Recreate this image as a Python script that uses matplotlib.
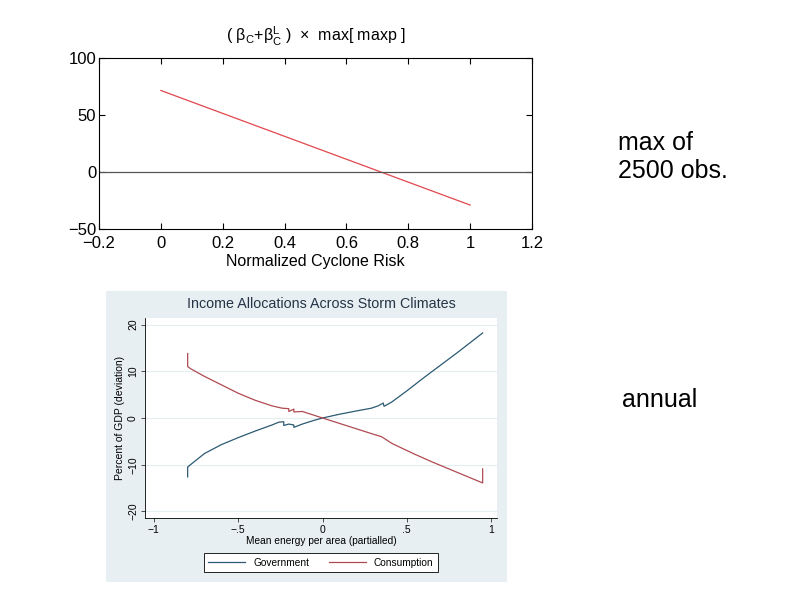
import matplotlib.pyplot as plt

plt.rcParams['font.family'] = ['Liberation Sans', 'DejaVu Sans']
plt.rcParams['mathtext.default'] = 'regular'

# top panel: marginal effect vs normalized cyclone risk
risk = [0.0, 1.0]
effect = [71.5, -29.0]

# bottom panel: income allocations
gov_x = [-0.80, -0.80, -0.78, -0.70, -0.60, -0.50, -0.40, -0.30, -0.26, -0.23, -0.23,
         -0.20, -0.17, -0.17, -0.12, -0.05, 0.00, 0.10, 0.20, 0.29, 0.33, 0.36, 0.365,
         0.41, 0.50, 0.60, 0.70, 0.80, 0.90, 0.95]
gov_y = [-12.6, -10.5, -9.9, -7.6, -5.7, -4.2, -2.8, -1.5, -0.9, -0.8, -1.6,
         -1.3, -1.5, -2.0, -1.3, -0.5, 0.0, 0.8, 1.5, 2.1, 2.6, 3.2, 2.5,
         3.4, 5.8, 8.6, 11.3, 14.0, 16.8, 18.2]
cons_x = [-0.80, -0.80, -0.78, -0.70, -0.60, -0.50, -0.40, -0.30, -0.24, -0.20, -0.20,
          -0.17, -0.17, -0.12, 0.00, 0.10, 0.20, 0.30, 0.35, 0.41, 0.45, 0.55, 0.65,
          0.75, 0.85, 0.95, 0.95]
cons_y = [13.8, 11.0, 10.5, 8.9, 7.1, 5.3, 3.8, 2.6, 2.1, 2.0, 1.4,
          1.9, 1.3, 1.4, 0.0, -1.15, -2.3, -3.45, -4.0, -5.4, -6.1, -7.8, -9.4,
          -10.9, -12.4, -13.9, -10.9]

fig = plt.figure(figsize=(8, 6), dpi=100)

# ---- top chart
ax1 = fig.add_axes([99 / 800, 1 - 229 / 600, 433 / 800, 171 / 600])
ax1.plot(risk, effect, color='#e0474c', lw=0.9)
ax1.axhline(0, color='#555555', lw=0.9)
ax1.set_xlim(-0.2, 1.2)
ax1.set_ylim(-50, 100)
ax1.set_xticks([-0.2, 0, 0.2, 0.4, 0.6, 0.8, 1, 1.2])
ax1.set_xticklabels(['\u22120.2', '0', '0.2', '0.4', '0.6', '0.8', '1', '1.2'])
ax1.set_yticks([-50, 0, 50, 100])
ax1.set_yticklabels(['\u221250', '0', '50', '100'])
ax1.tick_params(direction='in', top=True, right=True, labelsize=12, length=4)
ax1.tick_params(axis='x', pad=5)
ax1.tick_params(axis='y', pad=2)
ax1.set_xlabel('Normalized Cyclone Risk', fontsize=11.5, labelpad=2)
ax1.set_title(r'( $\beta_C$+$\beta_C^L$ )  ×  max[ maxp ]', fontsize=11.5, pad=12)

fig.text(618 / 800, 1 - 157 / 600, 'max of\n2500 obs.', fontsize=18, va='center',
         ha='left', linespacing=1.25)
fig.text(622 / 800, 1 - 400 / 600, 'annual', fontsize=18, va='center', ha='left')

# ---- bottom chart (Stata-style panel)
bg = fig.add_axes([106 / 800, 1 - 582 / 600, 401 / 800, 291 / 600])
bg.set_facecolor('#e8eff2')
bg.set_xticks([])
bg.set_yticks([])
for s in bg.spines.values():
    s.set_visible(False)

ax2 = fig.add_axes([145 / 800, 1 - 518 / 600, 352 / 800, 200 / 600])
ax2.set_facecolor('white')
for y in [-20, -10, 0, 10, 20]:
    ax2.axhline(y, color='#e4edf0', lw=0.8, zorder=0)
ax2.plot(gov_x, gov_y, color='#2c5a73', lw=0.9, label='Government')
ax2.plot(cons_x, cons_y, color='#b04a52', lw=0.9, label='Consumption')
ax2.set_xlim(-1.053, 1.035)
ax2.set_ylim(-21.4, 21.4)
ax2.set_xticks([-1, -0.5, 0, 0.5, 1])
ax2.set_xticklabels(['\u22121', '\u2212.5', '0', '.5', '1'])
ax2.set_yticks([-20, -10, 0, 10, 20])
ax2.set_yticklabels(['\u221220', '\u221210', '0', '10', '20'], rotation=90, va='center')
ax2.tick_params(labelsize=7.5, length=3, width=0.6, pad=2, color='#333333')
for s in ['top', 'right']:
    ax2.spines[s].set_visible(False)
for s in ['left', 'bottom']:
    ax2.spines[s].set_linewidth(0.6)
ax2.set_xlabel('Mean energy per area (partialled)', fontsize=7.3, labelpad=1)
ax2.set_ylabel('Percent of GDP (deviation)', fontsize=7.5, labelpad=2)
ax2.set_title('Income Allocations Across Storm Climates', fontsize=10.3,
              color='#243446', pad=7)
leg = ax2.legend(loc='upper center', bbox_to_anchor=(0.5, -0.15), ncol=2,
                 fontsize=7.3, frameon=True, fancybox=False, edgecolor='black',
                 framealpha=1, handlelength=3.6, columnspacing=2.0,
                 borderpad=0.45)
leg.get_frame().set_linewidth(0.6)

fig.savefig('out.png', dpi=100)
